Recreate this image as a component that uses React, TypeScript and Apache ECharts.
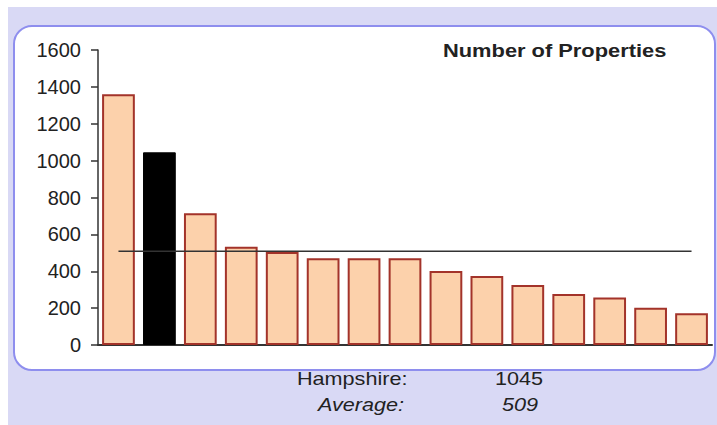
import React, { useEffect, useRef } from "react";
import * as echarts from "echarts";

const categories = [
  "Area 1", "Hampshire", "Area 3", "Area 4", "Area 5", "Area 6", "Area 7", "Area 8",
  "Area 9", "Area 10", "Area 11", "Area 12", "Area 13", "Area 14", "Area 15",
];
const propertyCounts = [1360, 1045, 715, 533, 505, 470, 470, 470, 401, 374, 325, 277, 257, 202, 172];
const highlightIndex = 1;
const averageValue = 509;
const yTicks = { min: 0, max: 1600, interval: 200 };
const titleText = "Number of Properties";
const selectedLabel = "Hampshire:";
const selectedValue = "1045";
const averageLabel = "Average:";
const averageText = "509";

export default function App() {
  const ref = useRef<HTMLDivElement>(null);
  useEffect(() => {
    if (!ref.current) return;
    const chart = echarts.init(ref.current, null, { renderer: "svg" });
    const font = "'Liberation Sans', Arial, sans-serif";
    const txt = (text: string, x: number, y: number, opts: any = {}) => ({
      type: "text",
      x,
      y,
      scaleX: opts.scaleX || 1.2,
      z: 10,
      style: {
        text,
        fill: "#222",
        font: `${opts.style || "normal"} ${opts.weight || "normal"} ${opts.size || 18}px ${font}`,
        textAlign: opts.align || "left",
        textVerticalAlign: "bottom",
      },
    });
    chart.setOption({
      animation: false,
      grid: { left: 98, right: 5, top: 50, bottom: 80, containLabel: false },
      xAxis: {
        type: "category",
        data: categories,
        axisLine: { show: true, lineStyle: { color: "#333", width: 2 } },
        axisTick: { show: false },
        axisLabel: { show: false },
      },
      yAxis: {
        type: "value",
        min: yTicks.min,
        max: yTicks.max,
        interval: yTicks.interval,
        splitLine: { show: false },
        axisLine: { show: true, lineStyle: { color: "#333", width: 1.5 } },
        axisTick: { show: true, length: 7, lineStyle: { color: "#333", width: 1.5 } },
        axisLabel: {
          color: "#222",
          fontSize: 20,
          fontFamily: font,
          margin: 17,
          formatter: (v: number) => String(v),
        },
      },
      graphic: [
        { type: "rect", z: -20, shape: { x: 8, y: 7, width: 709, height: 418 }, style: { fill: "#d9d9f5" } },
        {
          type: "rect",
          z: -10,
          shape: { x: 14, y: 26, width: 701, height: 344, r: 18 },
          style: { fill: "#ffffff", stroke: "#8e8eee", lineWidth: 2 },
        },
        txt(titleText, 443, 60, { weight: "bold", size: 19, scaleX: 1.15 }),
        txt(selectedLabel, 297, 388),
        txt(selectedValue, 495, 388),
        txt(averageLabel, 318, 414, { style: "italic" }),
        txt(averageText, 502, 414, { style: "italic" }),
      ],
      series: [
        {
          type: "bar",
          barCategoryGap: "20%",
          z: 2,
          data: propertyCounts.map((v, i) => ({
            value: v,
            itemStyle:
              i === highlightIndex
                ? { color: "#000000", borderColor: "#000000", borderWidth: 1 }
                : { color: "#fcd1ab", borderColor: "#a3332a", borderWidth: 2 },
          })),
        },
        {
          type: "line",
          z: 3,
          data: categories.map(() => averageValue),
          symbol: "none",
          lineStyle: { color: "#333", width: 1.5 },
        },
      ],
    });
    return () => chart.dispose();
  }, []);
  return <div ref={ref} style={{ width: 717, height: 425, position: "absolute", left: 0, top: 0 }} />;
}
